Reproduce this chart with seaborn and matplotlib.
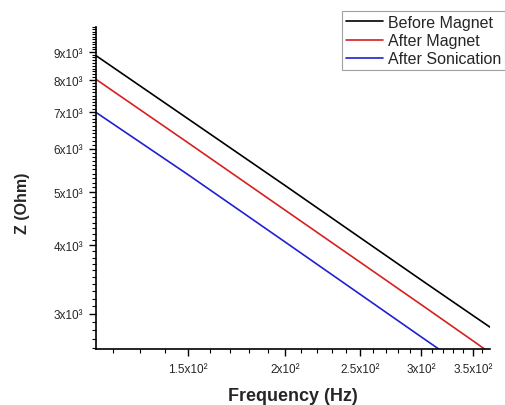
import numpy as np
import pandas as pd
import matplotlib
matplotlib.use("Agg")
import matplotlib.pyplot as plt
from matplotlib.ticker import FixedLocator, FixedFormatter, NullFormatter
import seaborn as sns

# values (log-log, Z falls roughly as 1/f)
freq = [114, 150, 200, 250, 300, 350, 370]
z_before = [8870, 6800, 5145, 4135, 3460, 2980, 2825]
z_after_magnet = [8030, 6150, 4640, 3730, 3120, 2680, 2535]
z_after_sonic = [6990, 5380, 4060, 3260, 2725, 2345, 2220]
labels = ["Before Magnet", "After Magnet", "After Sonication"]
colors = ["black", "#d62020", "#2020d0"]

x_major = [150, 200, 250, 300, 350]
x_major_labels = ["1.5x10²", "2x10²", "2.5x10²", "3x10²", "3.5x10²"]
y_major = [3000, 4000, 5000, 6000, 7000, 8000, 9000]
y_major_labels = ["3x10³", "4x10³", "5x10³", "6x10³", "7x10³", "8x10³", "9x10³"]

df = pd.DataFrame({
    "Frequency": freq * 3,
    "Z": z_before + z_after_magnet + z_after_sonic,
    "Sample": [labels[0]] * len(freq) + [labels[1]] * len(freq) + [labels[2]] * len(freq),
})

sns.set_style("ticks")
plt.rcParams["font.family"] = ["Liberation Sans", "DejaVu Sans"]

fig = plt.figure(figsize=(5.05, 4.06), dpi=100)
ax = fig.add_axes([0.190, 0.138, 0.780, 0.793])

sns.lineplot(data=df, x="Frequency", y="Z", hue="Sample", palette=colors,
             hue_order=labels, ax=ax, linewidth=1.2, legend=False)

ax.set_xscale("log")
ax.set_yscale("log")
ax.set_xlim(114, 368)
ax.set_ylim(2590, 10000)

ax.xaxis.set_major_locator(FixedLocator(x_major))
ax.xaxis.set_major_formatter(FixedFormatter(x_major_labels))
ax.xaxis.set_minor_locator(FixedLocator([v for v in range(110, 371, 10) if v not in x_major]))
ax.xaxis.set_minor_formatter(NullFormatter())
ax.yaxis.set_major_locator(FixedLocator(y_major))
ax.yaxis.set_major_formatter(FixedFormatter(y_major_labels))
ax.yaxis.set_minor_locator(FixedLocator([v for v in range(2600, 10001, 100) if v not in y_major]))
ax.yaxis.set_minor_formatter(NullFormatter())

ax.tick_params(which="major", direction="out", length=5, width=1, labelsize=8.5, color="black")
ax.tick_params(axis="x", which="major", pad=5)
ax.tick_params(axis="y", which="major", pad=4)
ax.tick_params(which="minor", direction="out", length=3, width=0.8, color="black")

sns.despine(ax=ax)
for s in ["left", "bottom"]:
    ax.spines[s].set_color("black")
    ax.spines[s].set_linewidth(1.2)

ax.set_xlabel("Frequency (Hz)", fontsize=13, fontweight="bold")
ax.set_ylabel("Z (Ohm)", fontsize=11.5, fontweight="bold")
ax.xaxis.set_label_coords(0.5, -0.118)
ax.yaxis.set_label_coords(-0.168, 0.457)

handles = [plt.Line2D([], [], color=c, linewidth=1.2) for c in colors]
leg = fig.legend(handles, labels, loc="upper left", bbox_to_anchor=(342 / 505, 1 - 12 / 406),
                 fontsize=11.5, frameon=True, fancybox=False, handlelength=2.3,
                 handletextpad=0.3, borderpad=0.25, labelspacing=0.2, borderaxespad=0)
leg.get_frame().set_edgecolor("#888888")
leg.get_frame().set_linewidth(0.8)

fig.savefig("out.png", dpi=100)
